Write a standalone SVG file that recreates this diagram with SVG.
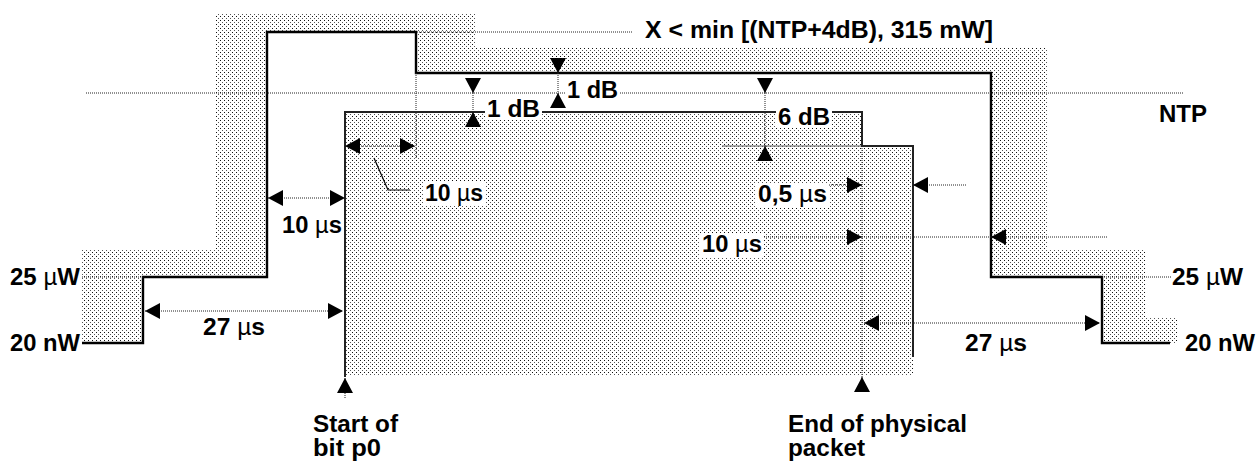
<svg xmlns="http://www.w3.org/2000/svg" width="1258" height="461" viewBox="0 0 1258 461">
<style>
.t{font-family:"Liberation Sans",Arial,sans-serif;font-weight:bold;font-size:23px;fill:#000}
.mu{font-weight:normal}
.solid{fill:none;stroke:#000;stroke-width:2.4}
.pk{fill:none;stroke:#222;stroke-width:2}
.dot{fill:none;stroke:#222;stroke-width:1;stroke-dasharray:1 1}
.dim{fill:none;stroke:#222;stroke-width:1;stroke-dasharray:1 1;marker-start:url(#ah);marker-end:url(#ah)}
.one{fill:none;stroke:#222;stroke-width:1;marker-end:url(#ah)}
.lead{fill:none;stroke:#000;stroke-width:1.2}
.bg{fill:#fff}
</style>
<defs>
<pattern id="dots" width="4" height="4" patternUnits="userSpaceOnUse">
<rect width="4" height="4" fill="#fff"/>
<rect x="0" y="0" width="1" height="1" fill="#111"/>
<rect x="2" y="2" width="1" height="1" fill="#555"/>
</pattern>
<marker id="ah" viewBox="0 0 15 16" refX="15" refY="8" markerWidth="15" markerHeight="16" markerUnits="userSpaceOnUse" orient="auto-start-reverse">
<path d="M0,0 L15,8 L0,16 z" fill="#000"/>
</marker>
</defs>
<rect width="1258" height="461" fill="#fff"/>

<g id="mask">
<path fill="url(#dots)" d="M82,343 V250 H215 V13 H475 V47 H1048 V250 H1145 V318 H1177 V343 H1102 V277 H991 V73 H416 V32 H267 V277 H143 V343 Z"/>
<path class="solid" d="M82,343 H143 V277 H267 V32 H416 V73 H991 V277 H1102 V343 H1170"/>
</g>

<g id="packet">
<path fill="url(#dots)" d="M345,112 H862 V146 H913 V375 H345 Z"/>
<line x1="722" y1="146" x2="862" y2="146" stroke="#555" stroke-width="1"/>
<path class="pk" d="M345,377 V112 H487 M540,112 H778 M830,112 H862 V146 H913 V357"/>
</g>

<g id="connectors">
<line class="dot" x1="86" y1="93" x2="1183" y2="93"/>
<line class="dot" x1="417" y1="32" x2="633" y2="32"/>
<line class="dot" x1="416" y1="73" x2="416" y2="158"/>
<line class="dot" x1="82" y1="277" x2="143" y2="277"/>
<line class="dot" x1="1102" y1="277" x2="1172" y2="277"/>
<line class="dot" x1="862" y1="146" x2="862" y2="377"/>
<line class="dim" x1="345" y1="146" x2="415" y2="146"/>
<line class="dim" x1="268" y1="198" x2="345" y2="198"/>
<line class="dim" x1="145" y1="311" x2="343" y2="311"/>
<line class="dim" x1="864" y1="323" x2="1100" y2="323"/>
<line class="dot" x1="829" y1="185" x2="862" y2="185"/>
<line class="one" x1="847" y1="185" x2="862" y2="185"/>
<line class="dot" x1="913" y1="185" x2="967" y2="185"/>
<line class="one" x1="928" y1="185" x2="913" y2="185"/>
<line class="dot" x1="762" y1="237" x2="1107" y2="237"/>
<line class="one" x1="847" y1="237" x2="862" y2="237"/>
<line class="one" x1="1006" y1="237" x2="991" y2="237"/>
<line class="one" x1="473" y1="78" x2="473" y2="93"/>
<line class="dot" x1="473" y1="93" x2="473" y2="112"/>
<line class="one" x1="473" y1="127" x2="473" y2="112"/>
<line class="one" x1="558" y1="58" x2="558" y2="73"/>
<line class="dot" x1="558" y1="73" x2="558" y2="93"/>
<line class="one" x1="558" y1="108" x2="558" y2="93"/>
<line class="one" x1="765" y1="78" x2="765" y2="93"/>
<line class="dot" x1="765" y1="93" x2="765" y2="146"/>
<line class="one" x1="765" y1="161" x2="765" y2="146"/>
<line class="one" x1="345" y1="393" x2="345" y2="378"/>
<line class="dot" x1="345" y1="393" x2="345" y2="398"/>
<line class="one" x1="862" y1="392" x2="862" y2="377"/>
<polyline class="lead" points="374,158 388,190 410,190"/>
</g>

<g id="labels">
<rect class="bg" x="485" y="99" width="57" height="20"/>
<rect class="bg" x="565" y="80" width="55" height="20"/>
<rect class="bg" x="776" y="107" width="56" height="20"/>
<rect class="bg" x="423" y="182" width="62" height="24"/>
<rect class="bg" x="756" y="183" width="73" height="24"/>
<rect class="bg" x="700" y="233" width="64" height="24"/>
<text class="t" x="645" y="38" textLength="348" lengthAdjust="spacingAndGlyphs">X &lt; min [(NTP+4dB), 315 mW]</text>
<text class="t" x="487" y="117" textLength="53" lengthAdjust="spacingAndGlyphs">1 dB</text>
<text class="t" x="567" y="98" textLength="51" lengthAdjust="spacingAndGlyphs">1 dB</text>
<text class="t" x="778" y="125" textLength="52" lengthAdjust="spacingAndGlyphs">6 dB</text>
<text class="t" x="1159" y="122" textLength="48" lengthAdjust="spacingAndGlyphs">NTP</text>
<text class="t" x="282" y="233" textLength="60" lengthAdjust="spacingAndGlyphs">10 <tspan class="mu">µ</tspan>s</text>
<text class="t" x="425" y="201" textLength="58" lengthAdjust="spacingAndGlyphs">10 <tspan class="mu">µ</tspan>s</text>
<text class="t" x="758" y="202" textLength="69" lengthAdjust="spacingAndGlyphs">0,5 <tspan class="mu">µ</tspan>s</text>
<text class="t" x="702" y="252" textLength="60" lengthAdjust="spacingAndGlyphs">10 <tspan class="mu">µ</tspan>s</text>
<text class="t" x="10" y="285" textLength="70" lengthAdjust="spacingAndGlyphs">25 <tspan class="mu">µ</tspan>W</text>
<text class="t" x="1172" y="285" textLength="71" lengthAdjust="spacingAndGlyphs">25 <tspan class="mu">µ</tspan>W</text>
<text class="t" x="203" y="335" textLength="62" lengthAdjust="spacingAndGlyphs">27 <tspan class="mu">µ</tspan>s</text>
<text class="t" x="10" y="351" textLength="70" lengthAdjust="spacingAndGlyphs">20 nW</text>
<text class="t" x="965" y="351" textLength="62" lengthAdjust="spacingAndGlyphs">27 <tspan class="mu">µ</tspan>s</text>
<text class="t" x="1185" y="351" textLength="70" lengthAdjust="spacingAndGlyphs">20 nW</text>
<text class="t" x="313" y="432" textLength="85" lengthAdjust="spacingAndGlyphs">Start of</text>
<text class="t" x="313" y="456" textLength="68" lengthAdjust="spacingAndGlyphs">bit p0</text>
<text class="t" x="788" y="432" textLength="179" lengthAdjust="spacingAndGlyphs">End of physical</text>
<text class="t" x="788" y="456" textLength="77" lengthAdjust="spacingAndGlyphs">packet</text>
</g>
</svg>
